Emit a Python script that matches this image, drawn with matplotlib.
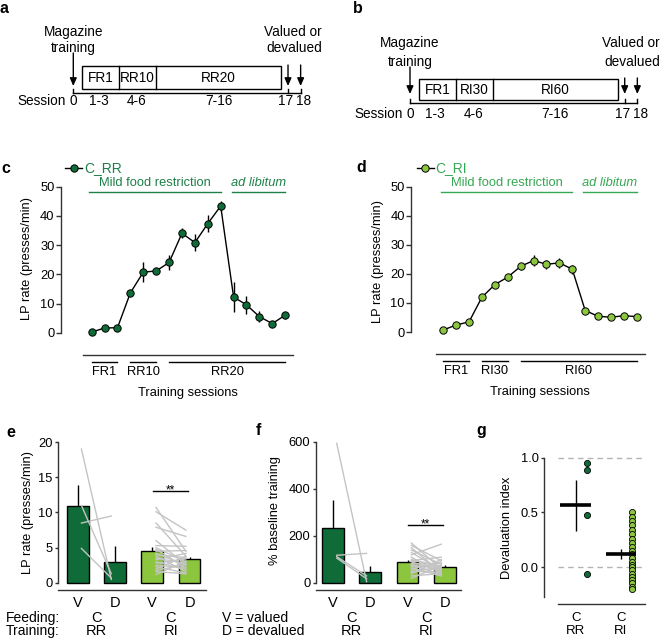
import numpy as np
import matplotlib
matplotlib.use('Agg')
import matplotlib.pyplot as plt
from matplotlib.patches import Rectangle
from matplotlib import transforms

plt.rcParams['font.family'] = ['Liberation Sans', 'DejaVu Sans']
plt.rcParams['font.size'] = 9.3

W, H = 660, 642
DARK = '#0f6b37'
LIGHT = '#8cc63f'
TXT_DARK = '#1d8048'
TXT_LIGHT = '#35a853'
GREY = '#c4c4c4'
FS = 9.3      # axis text
FS_SCH = 9.8  # schedule text
FS_BOT = 10   # bottom rows

# schedules (a, b)
sched_phases_rr = ['FR1', 'RR10', 'RR20']
sched_phases_ri = ['FR1', 'RI30', 'RI60']
sched_edges = [0.7, 3.65, 6.55, 16.45]
session_ticks = [0, 2, 5, 11.5, 17, 18]
session_labels = ['0', '1-3', '4-6', '7-16', '17', '18']

# training (c, d)
sessions = np.arange(1, 17)
rr_rate = [0.3, 1.7, 1.8, 13.7, 20.8, 21.2, 24.1, 34.1, 30.9, 37.4, 43.4, 12.3, 9.6, 5.6, 3.2, 6.1]
rr_sem = [0.3, 0.4, 0.5, 1.0, 3.4, 1.0, 2.6, 1.7, 3.0, 2.9, 1.7, 5.1, 3.1, 2.0, 0.8, 1.2]
ri_rate = [0.7, 2.4, 3.5, 12.0, 16.3, 18.9, 22.6, 24.6, 23.3, 23.8, 21.6, 7.4, 5.4, 5.1, 5.6, 5.3]
ri_sem = [0.4, 0.5, 0.6, 0.8, 1.0, 1.2, 1.3, 1.8, 1.5, 1.8, 1.6, 0.9, 0.6, 0.5, 0.6, 0.5]
phase_spans = [(1, 3), (4, 6), (7, 16)]
phase_rr = ['FR1', 'RR10', 'RR20']
phase_ri = ['FR1', 'RI30', 'RI60']
feeding_spans = [(0.8, 11.0), (11.85, 16.0)]
feeding_labels = ['Mild food restriction', 'ad libitum']

# test (e, f)
test_ticks = ['V', 'D', 'V', 'D']
rr_lp_valued = [19.0, 8.5, 11.0, 4.9]
rr_lp_deval = [0.5, 9.5, 1.3, 0.7]
ri_lp_valued = [10.7, 10.1, 8.5, 7.9, 6.0, 5.3, 5.0, 4.8, 4.5, 4.2, 4.0,
                3.8, 3.5, 3.3, 3.0, 2.8, 2.5, 2.3, 2.0, 1.8, 1.6, 1.2]
ri_lp_deval = [4.5, 7.5, 3.8, 6.6, 2.6, 5.2, 3.0, 2.1, 4.6, 2.5, 3.6,
               1.6, 2.8, 4.2, 1.9, 3.4, 2.2, 1.4, 3.8, 2.6, 1.3, 3.1]
rr_pct_valued = [594, 118, 112, 106]
rr_pct_deval = [6, 126, 30, 18]
ri_pct_valued = [170, 160, 150, 140, 130, 120, 110, 100, 95, 90, 85,
                 80, 75, 70, 65, 60, 55, 50, 45, 40, 30, 20]
ri_pct_deval = [60, 95, 45, 80, 55, 165, 40, 70, 110, 50, 85,
                35, 65, 75, 30, 90, 60, 45, 70, 100, 40, 75]

# devaluation index (g)
di_rr = [0.95, 0.89, 0.48, -0.06]
di_ri = [0.5, 0.46, 0.42, 0.38, 0.34, 0.30, 0.26, 0.22, 0.18, 0.15, 0.12,
         0.08, 0.05, 0.02, 0.0, -0.03, -0.06, -0.09, -0.12, -0.15, -0.18, -0.2]


fig = plt.figure(figsize=(6.6, 6.42), dpi=100)


def px_axes(l, t, r, b):
    return fig.add_axes([l / W, 1 - b / H, (r - l) / W, (b - t) / H])


def ftext(x, y, s, **kw):
    fig.text(x / W, 1 - y / H, s, **kw)


ov = fig.add_axes([0, 0, 1, 1])
ov.set_xlim(0, W)
ov.set_ylim(H, 0)
ov.axis('off')


def draw_schedule(x0, ys, phases, right_x):
    sx = lambda s: x0 + s * 12.63
    top, bot = ys['box']
    ov.add_patch(Rectangle((sx(sched_edges[0]), top), sx(sched_edges[-1]) - sx(sched_edges[0]),
                           bot - top, fill=False, lw=1, ec='black'))
    for e in sched_edges[1:-1]:
        ov.plot([sx(e)] * 2, [top, bot], color='black', lw=1)
    for name, a, b in zip(phases, sched_edges[:-1], sched_edges[1:]):
        ov.text((sx(a) + sx(b)) / 2, (top + bot) / 2, name, ha='center', va='center', fontsize=FS_SCH)
    base = ys['base']
    ov.plot([sx(0), sx(18)], [base, base], color='black', lw=1)
    for s in (0, 17, 18):
        ov.plot([sx(s)] * 2, [base - 4, base], color='black', lw=1)
    arrow = dict(arrowstyle='-|>,head_length=0.5,head_width=0.22', color='black', lw=1,
                 shrinkA=0, shrinkB=0)
    ov.annotate('', xy=(sx(0), ys['tip']), xytext=(sx(0), ys['mag_arrow']), arrowprops=arrow)
    for s in (17, 18):
        ov.annotate('', xy=(sx(s), ys['tip']), xytext=(sx(s), ys['val_arrow']), arrowprops=arrow)
    ov.text(sx(0), ys['txt'][0], 'Magazine', ha='center', va='center', fontsize=FS_SCH)
    ov.text(sx(0), ys['txt'][1], 'training', ha='center', va='center', fontsize=FS_SCH)
    ov.text(right_x, ys['txt'][0], 'Valued or', ha='right', va='center', fontsize=FS_SCH)
    ov.text(right_x, ys['txt'][1], 'devalued', ha='right', va='center', fontsize=FS_SCH)
    ov.text(sx(-0.6), ys['sess'], 'Session', ha='right', va='center', fontsize=FS_SCH)
    nudge = {'17': -0.2, '18': 0.25}
    for s, lab in zip(session_ticks, session_labels):
        ov.text(sx(s + nudge.get(lab, 0)), ys['sess'], lab, ha='center', va='center', fontsize=FS_SCH)


draw_schedule(73.3, dict(box=(66, 89.3), base=93.3, tip=86, mag_arrow=53, val_arrow=65,
                         txt=(32.3, 48.3), sess=101), sched_phases_rr, 322)
draw_schedule(410, dict(box=(79, 100), base=103.3, tip=94, mag_arrow=67, val_arrow=78,
                        txt=(43.3, 61.7), sess=114), sched_phases_ri, 660)


def draw_training(ax, rate, sem, color, name, name_color, phases, spine_lo):
    ax.errorbar(sessions, rate, yerr=sem, fmt='none', ecolor='black', elinewidth=1,
                capsize=0, zorder=2)
    ax.plot(sessions, rate, color='black', lw=1, zorder=3)
    ax.plot(sessions, rate, 'o', ms=5.3, mfc=color, mec='black', mew=0.7, zorder=4)
    ax.set_ylim(-7.5, 52)
    ax.set_yticks([0, 10, 20, 30, 40, 50])
    ax.set_xticks([])
    ax.spines[['top', 'right']].set_visible(False)
    ax.spines['left'].set_bounds(0, 50)
    ax.spines['bottom'].set_bounds(spine_lo, 16.6)
    for sp in ('left', 'bottom'):
        ax.spines[sp].set_linewidth(1)
        ax.spines[sp].set_color('#333333')
    ax.tick_params(axis='y', length=3.5, width=1, pad=1, labelsize=FS, color='#333333')
    ax.patch.set_visible(False)
    for (a, b), lab in zip(phase_spans, phases):
        ax.plot([a, b], [-10, -10], color='black', lw=1, clip_on=False)
        ax.text((a + b) / 2, -13.5, lab, ha='center', va='center', fontsize=FS)
    ax.text(8.5, -20.5, 'Training sessions', ha='center', va='center', fontsize=FS)
    for (a, b), lab, style in zip(feeding_spans, feeding_labels, ['normal', 'italic']):
        ax.plot([a, b], [48.1, 48.1], color=name_color, lw=1, clip_on=False)
        ax.text((a + b) / 2, 51.4, lab, ha='center', va='center', fontsize=FS,
                color=name_color, style=style)
    ax.plot([-1.05, 0.25], [56.4, 56.4], color='black', lw=1, clip_on=False)
    ax.plot([-0.4], [56.4], 'o', ms=5.3, mfc=color, mec='black', mew=0.7, clip_on=False)
    ax.text(0.4, 56.4, name, ha='left', va='center', fontsize=10, color=name_color)


ax_c = px_axes(60.7, 180.9, 298.1, 354.9)
ax_c.set_xlim(-1.4, 17)
draw_training(ax_c, rr_rate, rr_sem, DARK, 'C_RR', TXT_DARK, phase_rr, 0.35)
ax_d = px_axes(411, 180.9, 649.7, 353.8)
ax_d.set_xlim(-1.5, 17)
draw_training(ax_d, ri_rate, ri_sem, LIGHT, 'C_RI', TXT_LIGHT, phase_ri, 0.43)
ftext(27, 259, 'LP rate (presses/min)', rotation=90, ha='center', va='center', fontsize=FS)
ftext(378, 262, 'LP rate (presses/min)', rotation=90, ha='center', va='center', fontsize=FS)


def mean_sem(v):
    v = np.asarray(v, dtype=float)
    return v.mean(), v.std(ddof=1) / np.sqrt(len(v))


def draw_test(ax, groups, sig_y, ymax, yticks):
    pos = np.arange(4)
    colors = [DARK, DARK, LIGHT, LIGHT]
    stats = [mean_sem(g) for g in groups]
    means = [s[0] for s in stats]
    sems = [s[1] for s in stats]
    ax.bar(pos, means, width=0.58, color=colors, edgecolor='black', lw=1, zorder=1)
    ax.vlines(pos, means, np.add(means, sems), color='black', lw=1, zorder=1)
    for i in (0, 2):
        for v, d in zip(groups[i], groups[i + 1]):
            ax.plot([i + 0.1, i + 0.9], [v, d], color=GREY, lw=1, zorder=2)
    ax.plot([2.02, 2.95], [sig_y, sig_y], color='black', lw=1)
    ax.annotate('**', (2.48, sig_y), xytext=(0, -1.5), textcoords='offset points',
                ha='center', va='baseline', fontsize=8.5)
    ax.set_xticks(pos)
    ax.set_xticklabels(test_ticks, fontsize=10.5)
    ax.set_yticks(yticks)
    ax.spines[['top', 'right']].set_visible(False)
    ax.spines['left'].set_bounds(0, ymax)
    for sp in ('left', 'bottom'):
        ax.spines[sp].set_linewidth(1)
        ax.spines[sp].set_color('#333333')
    ax.tick_params(axis='x', length=0, pad=4.5)
    ax.tick_params(axis='y', length=2.5, width=1, pad=1.5, labelsize=FS, color='#333333')
    ax.patch.set_visible(False)
    tr = transforms.blended_transform_factory(ax.transData, fig.transFigure)
    for x, lab in [(0.5, 'RR'), (2.5, 'RI')]:
        ax.text(x, 1 - 618 / H, 'C', transform=tr, ha='center', va='center', fontsize=10.5)
        ax.text(x, 1 - 631 / H, lab, transform=tr, ha='center', va='center', fontsize=10.5)


ax_e = px_axes(58.3, 439.9, 206.4, 590)
ax_e.set_xlim(-0.52, 3.45)
ax_e.set_ylim(-1.0, 20.3)
draw_test(ax_e, [rr_lp_valued, rr_lp_deval, ri_lp_valued, ri_lp_deval], 13, 20, [0, 5, 10, 15, 20])
ftext(27.5, 512, 'LP rate (presses/min)', rotation=90, ha='center', va='center', fontsize=FS)

ax_f = px_axes(316, 439.6, 460.6, 590)
ax_f.set_xlim(-0.456, 3.42)
ax_f.set_ylim(-29.8, 610)
draw_test(ax_f, [rr_pct_valued, rr_pct_deval, ri_pct_valued, ri_pct_deval], 245, 600, [0, 200, 400, 600])
ftext(275, 511, '% baseline training', rotation=90, ha='center', va='center', fontsize=FS)

# g
ax_g = px_axes(544.3, 452.2, 650, 604.2)
ax_g.set_xlim(-0.693, 1.64)
ax_g.set_ylim(-0.34, 1.05)
for yv in (0, 1):
    ax_g.plot([-0.39, 1.53], [yv, yv], color='#b3b3b3', lw=1, dashes=(4, 3), zorder=1)
for i, (vals, col) in enumerate([(di_rr, DARK), (di_ri, LIGHT)]):
    m, s = mean_sem(vals)
    ax_g.plot([i + 0.24] * len(vals), vals, 'o', ms=4.4, mfc=col, mec='black', mew=0.6, zorder=3)
    ax_g.hlines(m, i - 0.34, i + 0.34, color='black', lw=2.6, zorder=4)
    ax_g.vlines(i, m - s, m + s, color='black', lw=1, zorder=4)
ax_g.set_xticks([])
ax_g.set_yticks([0, 0.5, 1.0])
ax_g.set_yticklabels(['0.0', '0.5', '1.0'])
ax_g.spines[['top', 'right']].set_visible(False)
ax_g.spines['left'].set_bounds(-0.27, 1.0)
ax_g.spines['bottom'].set_bounds(-0.39, 1.53)
for sp in ('left', 'bottom'):
    ax_g.spines[sp].set_linewidth(1)
    ax_g.spines[sp].set_color('#333333')
ax_g.tick_params(axis='y', length=2.5, width=1, pad=1.5, labelsize=FS, color='#333333')
ax_g.patch.set_visible(False)
tr_g = transforms.blended_transform_factory(ax_g.transData, fig.transFigure)
for x, lab in [(0, 'RR'), (1, 'RI')]:
    ax_g.text(x, 1 - 618 / H, 'C', transform=tr_g, ha='center', va='center', fontsize=9.5)
    ax_g.text(x, 1 - 631 / H, lab, transform=tr_g, ha='center', va='center', fontsize=9.5)
ftext(507, 528, 'Devaluation index', rotation=90, ha='center', va='center', fontsize=FS)

# bottom legend texts
ftext(6, 618, 'Feeding:', ha='left', va='center', fontsize=FS_BOT)
ftext(6, 631, 'Training:', ha='left', va='center', fontsize=FS_BOT)
ftext(222, 618, 'V = valued', ha='left', va='center', fontsize=FS_BOT)
ftext(222, 631, 'D = devalued', ha='left', va='center', fontsize=FS_BOT)

# panel letters
for lab, x, y in [('a', 0, 13.3), ('b', 353, 13.3), ('c', 1, 172.7), ('d', 356, 171.7),
                  ('e', 6, 437), ('f', 256, 435), ('g', 476, 435)]:
    ftext(x, y, lab, ha='left', va='baseline', fontsize=11.5, fontweight='bold')

fig.savefig('out.png', dpi=100)
